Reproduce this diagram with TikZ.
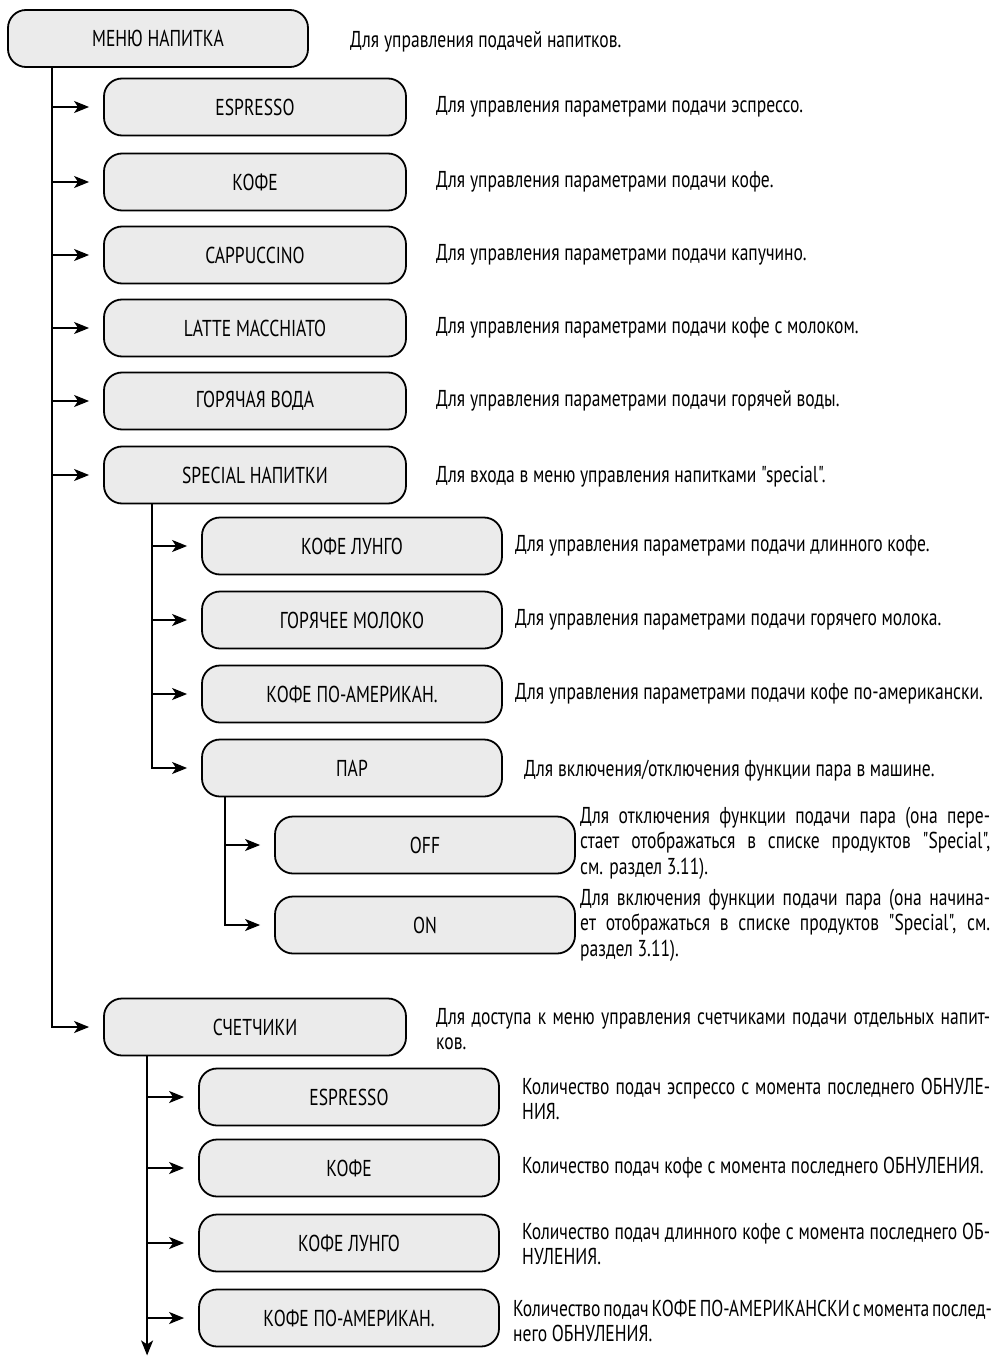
\documentclass[tikz,border=0pt]{standalone}
\usepackage{fontspec}
\newfontfamily\condfont[FakeStretch=0.763]{PT Sans}
\usetikzlibrary{arrows.meta}
\definecolor{boxgray}{HTML}{EBEBEB}
\newcommand\descfont{\condfont\fontsize{23}{25.5}\selectfont}
\newcommand\boxfont{\condfont\fontsize{23}{25.5}\selectfont}
\newcommand\jl[2]{\hbox to #1pt{#2}}
\newcommand\jlt[2]{\hbox to #1pt{\spaceskip=0.12em plus 1em\relax #2}}
\begin{document}
\begin{tikzpicture}[x=1pt,y=-1pt,
  box/.style={draw, line width=1.8pt, fill=boxgray, rounded corners=18pt, minimum width=300pt, minimum height=57pt, inner sep=0pt, font=\boxfont},
  desc/.style={anchor=west, inner sep=0pt, font=\descfont, align=left},
  ln/.style={line width=1.8pt},
  arr/.style={line width=1.8pt, -{Stealth[length=15pt,width=12pt,inset=4pt]}, shorten >=14pt}]
\useasboundingbox (0,0) rectangle (994,1356);
% level 0
\node[box] (menu) at (158,38.5) {МЕНЮ НАПИТКА};
\node[desc] (dmenu) at (350,42) {Для управления подачей напитков.};
% level 1
\node[box, minimum width=302pt] (esp) at (255,107) {ESPRESSO};
\node[box, minimum width=302pt] (kofe) at (255,182) {КОФЕ};
\node[box, minimum width=302pt] (capp) at (255,255) {CAPPUCCINO};
\node[box, minimum width=302pt] (latte) at (255,328) {LATTE MACCHIATO};
\node[box, minimum width=302pt] (voda) at (255,401) {ГОРЯЧАЯ ВОДА};
\node[box, minimum width=302pt] (spec) at (255,475) {SPECIAL НАПИТКИ};
\node[box, minimum width=302pt] (schet) at (255,1027) {СЧЕТЧИКИ};
\node[desc] (desp) at (436,107) {Для управления параметрами подачи эспрессо.};
\node[desc] (dkofe) at (436,182) {Для управления параметрами подачи кофе.};
\node[desc] (dcapp) at (436,255) {Для управления параметрами подачи капучино.};
\node[desc] (dlatte) at (436,328) {Для управления параметрами подачи кофе с молоком.};
\node[desc] (dvoda) at (436,401) {Для управления параметрами подачи горячей воды.};
\node[desc] (dspec) at (436,477) {Для входа в меню управления напитками "special".};
\node[desc] (dschet) at (436,1029) {\jl{554}{Для доступа к меню управления счетчиками подачи отдельных напит-}\\ков.};
% level 2 special
\node[box] (lungo) at (352,546) {КОФЕ ЛУНГО};
\node[box] (milk) at (352,620) {ГОРЯЧЕЕ МОЛОКО};
\node[box] (amer) at (352,694) {КОФЕ ПО-АМЕРИКАН.};
\node[box] (par) at (352,768) {ПАР};
\node[desc] (dlungo) at (515,546) {Для управления параметрами подачи длинного кофе.};
\node[desc] (dmilk) at (515,620) {Для управления параметрами подачи горячего молока.};
\node[desc] (damer) at (515,694) {Для управления параметрами подачи кофе по-американски.};
\node[desc] (dpar) at (524,771) {Для включения/отключения функции пара в машине.};
% level 3
\node[box] (off) at (425,845) {OFF};
\node[box] (on) at (425,925) {ON};
\node[desc] (doff) at (580,843) {\jl{410}{Для отключения функции подачи пара (она пере-}\\\jl{410}{стает отображаться в списке продуктов "Special",}\\см. раздел 3.11).};
\node[desc] (don) at (580,925) {\jl{410}{Для включения функции подачи пара (она начина-}\\\jl{410}{ет отображаться в списке продуктов "Special", см.}\\раздел 3.11).};
% counters
\node[box] (c1) at (349,1097) {ESPRESSO};
\node[box] (c2) at (349,1168) {КОФЕ};
\node[box] (c3) at (349,1243) {КОФЕ ЛУНГО};
\node[box] (c4) at (349,1318) {КОФЕ ПО-АМЕРИКАН.};
\node[desc] (dc1) at (522,1099) {\jl{468}{Количество подач эспрессо с момента последнего ОБНУЛЕ-}\\НИЯ.};
\node[desc] (dc2) at (522,1168) {Количество подач кофе с момента последнего ОБНУЛЕНИЯ.};
\node[desc] (dc3) at (522,1244) {\jl{468}{Количество подач длинного кофе с момента последнего ОБ-}\\НУЛЕНИЯ.};
\node[desc] (dc4) at (513,1321) {\jlt{477}{Количество подач КОФЕ ПО-АМЕРИКАНСКИ с момента послед-}\\него ОБНУЛЕНИЯ.};
% connectors
\coordinate (t0) at ([xshift=45pt]menu.south west);
\draw[arr] (t0) |- (schet);
\foreach \n in {esp,kofe,capp,latte,voda,spec} \draw[arr] (t0 |- \n) -- (\n);
\coordinate (t1) at ([xshift=49pt]spec.south west);
\draw[arr] (t1) |- (par);
\foreach \n in {lungo,milk,amer} \draw[arr] (t1 |- \n) -- (\n);
\coordinate (t2) at ([xshift=24pt]par.south west);
\draw[arr] (t2) |- (on);
\draw[arr] (t2 |- off) -- (off);
\coordinate (t3) at ([xshift=44pt]schet.south west);
\path (t3) ++(0,299) coordinate (tend);
\draw[ln, -{Stealth[length=15pt,width=12pt,inset=4pt]}] (t3) -- (tend);
\foreach \n in {c1,c2,c3,c4} \draw[arr] (t3 |- \n) -- (\n);
\end{tikzpicture}
\end{document}
